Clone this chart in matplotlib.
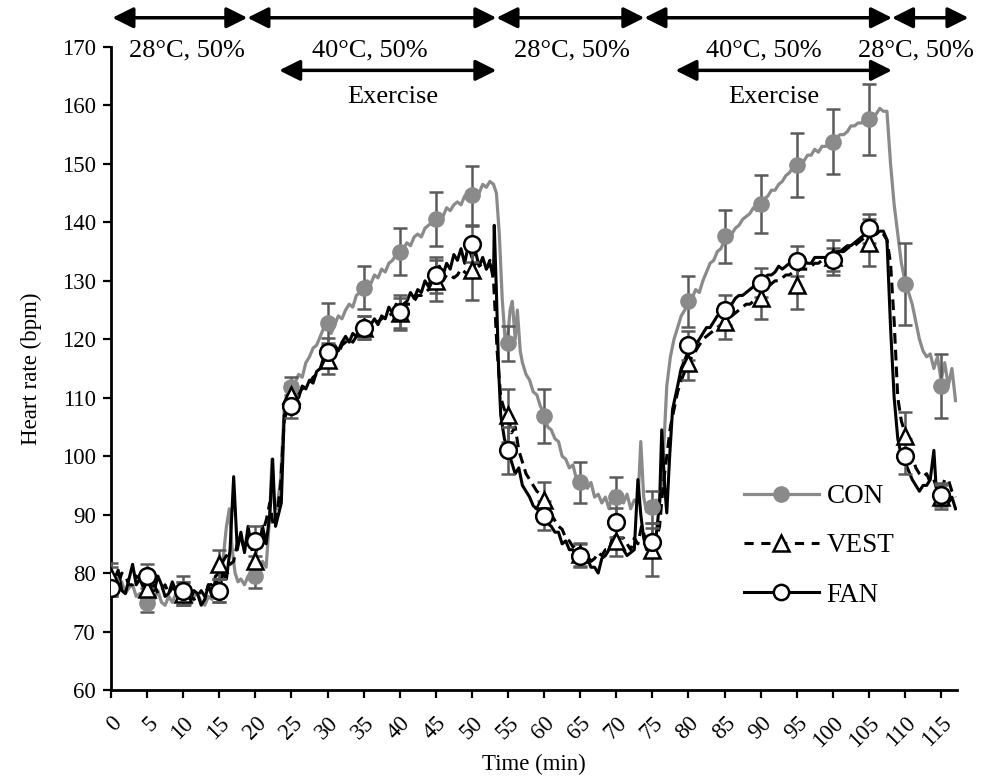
import matplotlib
matplotlib.use("Agg")
import matplotlib.pyplot as plt

plt.rcParams['font.family'] = ['Liberation Serif', 'DejaVu Serif']

# ---- marker (5-min) data ----
marker_t = [0, 5, 10, 15, 20, 25, 30, 35, 40, 45, 50, 55, 60, 65, 70, 75,
            80, 85, 90, 95, 100, 105, 110, 115]
con_mean = [78.5, 74.8, 76.5, 77.0, 79.5, 111.8, 122.8, 128.8, 135.0, 140.6, 144.6, 119.3,
            106.9, 95.5, 93.0, 91.3, 126.5, 137.6, 143.1, 149.8, 153.8, 157.6, 129.5, 112.0]
con_err = [2.5, 1.5, 2.0, 2.0, 2.0, 1.8, 3.4, 3.7, 4.0, 4.6, 5.0, 3.0,
           4.6, 3.5, 3.5, 2.8, 4.4, 4.5, 5.0, 5.5, 5.6, 6.0, 7.0, 5.5]
vest_mean = [79.3, 77.2, 76.5, 81.5, 82.0, 110.5, 116.5, 122.0, 124.5, 130.0, 131.8, 107.0,
             92.5, 83.2, 85.5, 84.0, 116.0, 123.0, 127.0, 129.2, 134.0, 136.5, 103.5, 93.0]
vest_err = [2.5, 2.0, 2.0, 2.5, 2.5, 2.0, 2.5, 2.0, 2.5, 3.5, 5.0, 4.5,
            3.0, 2.0, 2.5, 4.5, 3.0, 3.0, 3.5, 4.0, 3.0, 4.0, 4.0, 2.0]
fan_mean = [77.5, 79.5, 77.0, 77.0, 85.5, 108.5, 117.8, 122.0, 124.6, 131.0, 136.3, 101.0,
            89.8, 83.0, 88.7, 85.3, 119.0, 125.0, 129.7, 133.4, 133.6, 139.0, 100.0, 93.4]
fan_err = [1.5, 2.0, 2.5, 2.0, 2.5, 2.0, 2.5, 2.0, 3.0, 3.0, 3.0, 4.0,
           2.5, 2.0, 2.5, 2.5, 2.5, 2.5, 2.5, 2.5, 2.0, 2.5, 3.0, 2.0]

# ---- continuous traces (time, bpm) ----
con_trace = [
    (0, 79), (0.5, 78), (1, 77), (1.5, 78.5), (2, 76.5), (2.5, 77.5), (3, 78), (3.5, 76),
    (4, 76.5), (4.5, 74.5), (5, 75), (5.5, 76.5), (6, 75.5), (6.5, 77), (7, 75), (7.5, 74.5),
    (8, 76), (8.5, 75), (9, 76.5), (9.5, 75), (10, 76), (10.5, 75), (11, 74.5), (11.5, 76),
    (12, 76.5), (12.5, 75), (13, 74.5), (13.5, 76), (14, 75.5), (14.5, 77), (15, 79),
    (15.5, 82), (16, 88), (16.4, 91), (16.8, 84), (17.2, 80), (17.6, 78.5), (18, 79),
    (18.5, 78), (19, 79.5), (19.5, 78.5), (20, 80), (20.5, 79.5), (21, 82), (21.5, 81),
    (22, 90), (22.3, 99.5), (22.6, 92), (23, 91), (23.5, 96), (24, 108), (24.5, 110.5),
    (25, 112), (25.5, 112.5), (26, 114), (26.5, 113.5), (27, 116), (27.5, 117), (28, 118.5),
    (28.5, 119), (29, 120.5), (29.5, 122), (30, 122.5), (30.5, 121), (31, 122.5), (31.5, 124),
    (32, 123.5), (32.5, 125), (33, 126), (33.5, 125.5), (34, 127.5), (34.5, 128), (35, 128.5),
    (35.5, 130), (36, 129.5), (36.5, 131), (37, 130.5), (37.5, 132), (38, 131.5), (38.5, 133),
    (39, 133.5), (39.5, 134.5), (40, 135), (40.5, 135.5), (41, 136.5), (41.5, 136),
    (42, 137.5), (42.5, 138), (43, 137.5), (43.5, 139), (44, 139.5), (44.5, 140), (45, 140.5),
    (45.5, 141.5), (46, 141), (46.5, 142.5), (47, 142), (47.5, 143), (48, 143.5), (48.5, 143),
    (49, 144.5), (49.5, 144), (50, 144.5), (50.5, 145.5), (51, 145), (51.5, 146.5), (52, 146),
    (52.5, 147), (53, 146.5), (53.4, 145), (53.8, 138), (54.2, 127), (54.6, 120), (55, 121),
    (55.3, 125), (55.6, 126.5), (56, 120), (56.3, 125), (56.7, 118), (57, 116), (57.5, 114),
    (58, 113), (58.5, 111), (59, 110.5), (59.5, 108.5), (60, 107.5), (60.5, 105), (61, 104.5),
    (61.5, 103), (62, 102.5), (62.5, 100), (63, 99.5), (63.5, 98), (64, 98.5), (64.5, 96),
    (65, 95.5), (65.5, 96), (66, 94.5), (66.5, 95.5), (67, 93), (67.5, 93.5), (68, 92),
    (68.5, 93), (69, 91), (69.5, 94), (70, 92.5), (70.5, 94), (71, 92), (71.5, 93.5), (72, 91),
    (72.5, 92.5), (73, 92), (73.4, 102.5), (73.8, 93), (74.2, 90.5), (74.6, 92), (75, 91),
    (75.5, 92.5), (76, 92), (76.3, 95), (76.6, 102), (77, 112), (77.5, 117), (78, 120),
    (78.5, 122), (79, 124), (79.5, 125), (80, 126.5), (80.5, 127), (81, 128.5), (81.5, 128),
    (82, 130), (82.5, 131.5), (83, 133), (83.5, 133.5), (84, 135), (84.5, 135.5), (85, 137),
    (85.5, 137.5), (86, 138), (86.5, 139), (87, 139.5), (87.5, 140.5), (88, 141), (88.5, 141.5),
    (89, 142.5), (89.5, 142), (90, 143.5), (90.5, 144), (91, 144.5), (91.5, 145.5), (92, 145.5),
    (92.5, 146.5), (93, 147), (93.5, 148), (94, 148.5), (94.5, 149.5), (95, 150), (95.5, 150),
    (96, 150.5), (96.5, 151.5), (97, 151.5), (97.5, 152.5), (98, 152), (98.5, 153), (99, 153),
    (99.5, 153.5), (100, 153.5), (100.5, 154.5), (101, 155), (101.5, 155), (102, 155.5),
    (102.5, 156.5), (103, 156.5), (103.5, 157), (104, 157), (104.5, 158), (105, 157.5),
    (105.5, 158.5), (106, 158.5), (106.5, 159.5), (107, 159), (107.5, 159), (108, 150),
    (108.5, 143), (109, 138), (109.5, 133), (110, 130), (110.5, 128), (111, 126), (111.5, 123),
    (112, 120), (112.5, 118), (113, 117), (113.5, 117.5), (114, 115), (114.5, 117), (115, 113),
    (115.5, 116), (116, 112), (116.5, 115), (117, 109.5)]

vest_trace = [
    (0, 80), (0.5, 79), (1, 78), (1.5, 80), (2, 79.5), (2.5, 78), (3, 78), (3.5, 79.5),
    (4, 79), (4.5, 77.5), (5, 78), (5.5, 77), (6, 78), (6.5, 76.5), (7, 77), (7.5, 78),
    (8, 76.5), (8.5, 77.5), (9, 77), (9.5, 76), (10, 76.5), (10.5, 77.5), (11, 76), (11.5, 75.5),
    (12, 76), (12.5, 77), (13, 76), (13.5, 78), (14, 78), (14.5, 79.5), (15, 80), (15.5, 82),
    (16, 83), (16.5, 81.5), (17, 82), (17.5, 85), (18, 86), (18.5, 84), (19, 85), (19.5, 87),
    (20, 83), (20.5, 86), (21, 87), (21.5, 89), (22, 92), (22.5, 88), (23, 90), (23.5, 95),
    (24, 106), (24.5, 108.5), (25, 110), (25.5, 110.5), (26, 111), (26.5, 111.5), (27, 112),
    (27.5, 112.5), (28, 113.5), (28.5, 114), (29, 115), (29.5, 116), (30, 116.5), (30.5, 117.5),
    (31, 118), (31.5, 117.5), (32, 119), (32.5, 119.5), (33, 120), (33.5, 119.5), (34, 120.5),
    (34.5, 121.5), (35, 121.5), (35.5, 122), (36, 122.5), (36.5, 123), (37, 123), (37.5, 123.5),
    (38, 124), (38.5, 124), (39, 124.5), (39.5, 125), (40, 124.5), (40.5, 125.5), (41, 126),
    (41.5, 126), (42, 126.5), (42.5, 127.5), (43, 127.5), (43.5, 128), (44, 128.5), (44.5, 129.5),
    (45, 129.5), (45.5, 130), (46, 130), (46.5, 131), (47, 131), (47.5, 130.5), (48, 131),
    (48.5, 132), (49, 131.5), (49.5, 131), (50, 132), (50.5, 133), (51, 133), (51.5, 132),
    (52, 132), (52.5, 133.5), (53, 130), (53.5, 118), (54, 110), (54.5, 108), (55, 107),
    (55.5, 104), (56, 105), (56.5, 101), (57, 99), (57.5, 97), (58, 96), (58.5, 95), (59, 94),
    (59.5, 93.5), (60, 92.5), (60.5, 91), (61, 90), (61.5, 89), (62, 88), (62.5, 87.5), (63, 86),
    (63.5, 85.5), (64, 84.5), (64.5, 85), (65, 84), (65.5, 83), (66, 83), (66.5, 82), (67, 82.5),
    (67.5, 83.5), (68, 83), (68.5, 84), (69, 84), (69.5, 86), (70, 85), (70.5, 86), (71, 86),
    (71.5, 85), (72, 84), (72.5, 86), (73, 85), (73.5, 88), (74, 86), (74.5, 85), (75, 84.5),
    (75.5, 85.5), (76, 88), (76.5, 95), (77, 100), (77.5, 105), (78, 108), (78.5, 111),
    (79, 113), (79.5, 114.5), (80, 116), (80.5, 117), (81, 118), (81.5, 119), (82, 120),
    (82.5, 120.5), (83, 121), (83.5, 121.5), (84, 122), (84.5, 122.5), (85, 123), (85.5, 123.5),
    (86, 124), (86.5, 124.5), (87, 125), (87.5, 125.5), (88, 126), (88.5, 126), (89, 126.5),
    (89.5, 127), (90, 127.5), (90.5, 128.5), (91, 129), (91.5, 129.5), (92, 130), (92.5, 130),
    (93, 130.5), (93.5, 131), (94, 131), (94.5, 131.5), (95, 131.5), (95.5, 132), (96, 132),
    (96.5, 132), (97, 132.5), (97.5, 133), (98, 133), (98.5, 133.5), (99, 133.5), (99.5, 134),
    (100, 134), (100.5, 134.5), (101, 135), (101.5, 135), (102, 135.5), (102.5, 136), (103, 136),
    (103.5, 136.5), (104, 137), (104.5, 137.5), (105, 137.5), (105.5, 138), (106, 138),
    (106.5, 138.5), (107, 138), (107.5, 137), (108, 133), (108.5, 123), (109, 110), (109.5, 106),
    (110, 104), (110.5, 101), (111, 100), (111.5, 98), (112, 97), (112.5, 96.5), (113, 97),
    (113.5, 95.5), (114, 96), (114.5, 94), (115, 94), (115.5, 96), (116, 96), (116.5, 94),
    (117, 93)]

fan_trace = [
    (0, 77), (0.5, 79), (1, 80.5), (1.5, 77), (2, 76.5), (2.5, 79), (3, 81.5), (3.5, 78),
    (4, 79), (4.5, 77.5), (5, 80), (5.5, 78), (6, 77), (6.5, 79.5), (7, 78), (7.5, 76),
    (8, 76.5), (8.5, 78.5), (9, 77), (9.5, 75.5), (10, 76), (10.5, 78), (11, 75.5), (11.5, 77),
    (12, 76.5), (12.5, 74.5), (13, 75.5), (13.5, 78), (14, 76), (14.5, 79), (15, 77), (15.5, 80),
    (16, 79), (16.5, 84), (17, 96.5), (17.5, 84), (18, 87), (18.5, 83.5), (19, 88), (19.5, 84),
    (20, 86.5), (20.5, 84.5), (21, 88), (21.5, 85), (22, 90), (22.4, 99.5), (22.8, 88),
    (23.2, 90), (23.6, 92), (24, 107), (24.5, 108.5), (25, 109), (25.5, 110.5), (26, 110),
    (26.5, 112), (27, 111.5), (27.5, 113), (28, 112.5), (28.5, 114.5), (29, 115), (29.5, 117),
    (30, 118), (30.5, 117.5), (31, 119), (31.5, 118), (32, 119.5), (32.5, 120.5), (33, 119.5),
    (33.5, 121), (34, 120.5), (34.5, 122), (35, 121.5), (35.5, 123), (36, 122.5), (36.5, 123.5),
    (37, 122.5), (37.5, 124), (38, 123.5), (38.5, 125.5), (39, 124.5), (39.5, 126), (40, 125),
    (40.5, 126), (41, 126.5), (41.5, 128), (42, 127), (42.5, 128.5), (43, 128), (43.5, 130),
    (44, 129), (44.5, 131), (45, 130.5), (45.5, 132.5), (46, 131), (46.5, 133), (47, 132),
    (47.5, 134.5), (48, 133.5), (48.5, 135.5), (49, 133), (49.5, 136), (50, 134), (50.5, 135),
    (51, 132.5), (51.5, 134), (52, 132), (52.5, 133), (53, 131), (53.1, 139.5), (53.4, 128),
    (53.7, 115), (54, 107), (54.5, 103), (55, 101), (55.5, 99), (56, 97), (56.5, 98), (57, 95),
    (57.5, 94), (58, 93), (58.5, 91.5), (59, 91), (59.5, 90.5), (60, 89.5), (60.5, 88.5),
    (61, 88), (61.5, 87), (62, 87), (62.5, 85), (63, 85.5), (63.5, 84), (64, 84), (64.5, 82.5),
    (65, 83), (65.5, 82), (66, 82.5), (66.5, 81), (67, 81), (67.5, 80), (68, 82.5), (68.5, 83),
    (69, 84), (69.5, 86), (70, 86.5), (70.5, 85), (71, 84), (71.5, 83), (72, 83.5), (72.5, 84),
    (73, 96), (73.4, 90), (73.8, 86), (74.2, 84), (74.6, 84.5), (75, 85), (75.5, 86), (76, 92),
    (76.3, 104.5), (76.7, 95), (77, 90.3), (77.4, 100), (77.8, 108), (78.5, 112), (79, 115),
    (79.5, 116.5), (80, 118), (80.5, 118.5), (81, 119), (81.5, 120), (82, 121), (82.5, 122),
    (83, 122), (83.5, 123), (84, 124), (84.5, 124.5), (85, 125), (85.5, 125.5), (86, 126),
    (86.5, 127), (87, 127.5), (87.5, 127.5), (88, 128), (88.5, 128.5), (89, 129), (89.5, 129.5),
    (90, 130), (90.5, 130.5), (91, 131), (91.5, 131), (92, 131.5), (92.5, 132.5), (93, 132),
    (93.5, 132.5), (94, 133), (94.5, 133.5), (95, 133), (95.5, 133), (96, 133.5), (96.5, 133),
    (97, 133), (97.5, 134), (98, 134), (98.5, 134), (99, 134), (99.5, 133.5), (100, 134),
    (100.5, 135), (101, 135), (101.5, 135.5), (102, 136), (102.5, 136), (103, 136.5),
    (103.5, 137), (104, 137.5), (104.5, 138), (105, 138.5), (105.5, 138), (106, 138),
    (106.5, 138.5), (107, 138.5), (107.5, 137), (108, 122), (108.5, 110), (109, 103),
    (109.5, 100), (110, 99), (110.5, 97.5), (111, 96), (111.5, 95), (112, 94), (112.5, 95),
    (113, 95), (113.5, 96), (114, 101), (114.3, 95), (114.6, 93), (115, 93), (115.5, 94),
    (116, 92), (116.5, 93), (117, 91)]

x_ticks = list(range(0, 120, 5))
y_ticks = list(range(60, 171, 10))

con_t, con_v = zip(*con_trace)
vest_t, vest_v = zip(*vest_trace)
fan_t, fan_v = zip(*fan_trace)

GRAY = '#8a8a8a'
ERR = '#5a5a5a'
FS = 16.5

fig = plt.figure(figsize=(9.81, 7.78), dpi=100)
ax = fig.add_axes([0.1131, 0.1131, 0.8624, 0.8265])

ax.plot(con_t, con_v, color=GRAY, lw=2.3, zorder=2)
ax.plot(vest_t, vest_v, color='black', lw=2.2, ls=(0, (3.5, 2)), zorder=3)
ax.plot(fan_t, fan_v, color='black', lw=2.2, zorder=4)

for m, e in [(con_mean, con_err), (vest_mean, vest_err), (fan_mean, fan_err)]:
    ax.errorbar(marker_t, m, yerr=e, fmt='none', ecolor=ERR, elinewidth=1.8,
                capsize=5, capthick=1.8, zorder=5)

ax.plot(marker_t, con_mean, 'o', color=GRAY, ms=11, zorder=6)
ax.plot(marker_t, vest_mean, '^', mfc='white', mec='black', mew=1.8, ms=11, zorder=7)
ax.plot(marker_t, fan_mean, 'o', mfc='white', mec='black', mew=1.8, ms=12, zorder=8)

# legend proxies
h1, = ax.plot([], [], color=GRAY, lw=2.3, marker='o', ms=11)
h2, = ax.plot([], [], color='black', lw=2.2, ls=(0, (3, 2.5)), marker='^', mfc='white',
              mec='black', mew=1.8, ms=11)
h3, = ax.plot([], [], color='black', lw=2.2, marker='o', mfc='white', mec='black',
              mew=1.8, ms=11)
ax.legend([h1, h2, h3], ['CON', 'VEST', 'FAN'], loc='lower right',
          bbox_to_anchor=(0.955, 0.09), frameon=False, fontsize=19.5, handlelength=2.75,
          labelspacing=0.9, handletextpad=0.3)

ax.set_xlim(0, 117.2)
ax.set_ylim(60, 170)
ax.set_xticks(x_ticks)
ax.set_yticks(y_ticks)
ax.set_xticklabels([str(v) for v in x_ticks], rotation=45, ha='right',
                   rotation_mode='anchor', fontsize=FS)
ax.set_yticklabels([str(v) for v in y_ticks], fontsize=FS)
ax.tick_params(axis='both', direction='out', length=6, width=1.6, pad=5)
ax.tick_params(axis='x', pad=10)
for s in ['top', 'right']:
    ax.spines[s].set_visible(False)
for s in ['left', 'bottom']:
    ax.spines[s].set_linewidth(2.0)
ax.set_xlabel('Time (min)', fontsize=FS, labelpad=2)
ax.set_ylabel('Heart rate (bpm)', fontsize=FS, labelpad=14)

# condition arrows
arrow_kw = dict(arrowstyle='<|-|>,head_length=0.9,head_width=0.45', color='black',
                lw=2.5, mutation_scale=14, shrinkA=0, shrinkB=0)
row1 = [(0.2, 18.9), (18.9, 53.4), (53.4, 73.9), (73.9, 108.2), (108.2, 118.8)]
for a, b in row1:
    ax.annotate('', xy=(b, 175.0), xytext=(a, 175.0), xycoords='data',
                arrowprops=arrow_kw, annotation_clip=False)
for a, b in [(23.3, 53.4), (78.2, 108.2)]:
    ax.annotate('', xy=(b, 166.0), xytext=(a, 166.0), xycoords='data',
                arrowprops=arrow_kw, annotation_clip=False)

cond_labels = [(10.5, '28°C, 50%'), (35.8, '40°C, 50%'), (63.8, '28°C, 50%'),
               (90.5, '40°C, 50%'), (111.5, '28°C, 50%')]
for x, s in cond_labels:
    ax.text(x, 169.4, s, ha='center', va='center', fontsize=19, clip_on=False)
for x in [39.0, 91.8]:
    ax.text(x, 161.5, 'Exercise', ha='center', va='center', fontsize=19, clip_on=False)

fig.savefig('out.png', dpi=100)
